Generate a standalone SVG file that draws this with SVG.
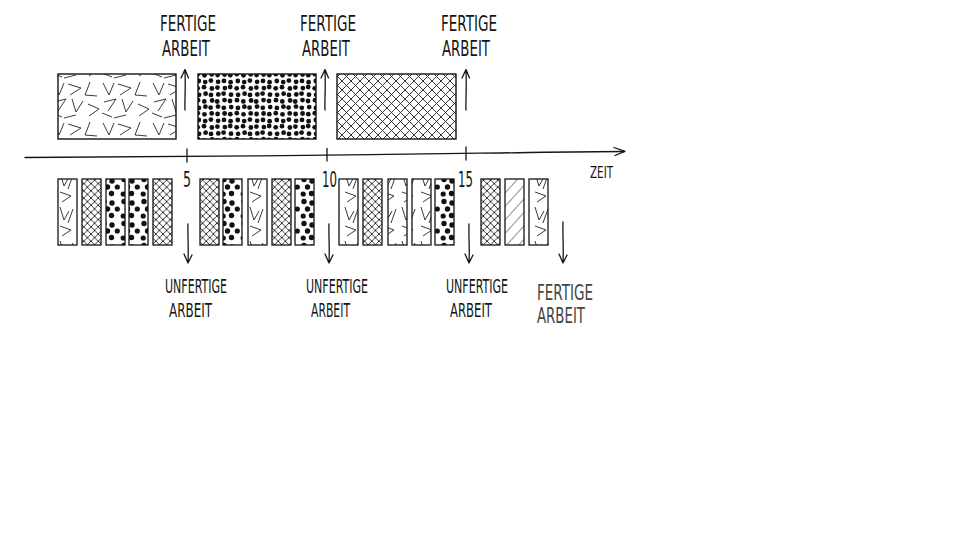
<svg xmlns="http://www.w3.org/2000/svg" width="960" height="540" viewBox="0 0 960 540">
<style>
.box{stroke:#151515;stroke-width:1.4;}
.bar{stroke:#151515;stroke-width:1.3;}
.lbl{font-family:"Liberation Sans Narrow","DejaVu Sans Condensed","Liberation Sans",sans-serif;fill:#151515;}
.lt{font-family:"Liberation Sans Narrow","DejaVu Sans Condensed","Liberation Sans",sans-serif;fill:#444;}
.ln{fill:none;stroke:#151515;stroke-width:1.3;stroke-linecap:round;stroke-linejoin:round;}
</style>
<defs>
<pattern id="xh" patternUnits="userSpaceOnUse" width="9" height="9">
<rect width="9" height="9" fill="#fff"/>
<path d="M0 0L9 9M9 0L0 9" stroke="#222" stroke-width="0.9"/>
</pattern>
<pattern id="xhs" patternUnits="userSpaceOnUse" width="7.2" height="7.2" x="1">
<rect width="7.2" height="7.2" fill="#fff"/>
<path d="M0 0L7.2 7.2M7.2 0L0 7.2" stroke="#222" stroke-width="0.9"/>
</pattern>
<pattern id="dots" patternUnits="userSpaceOnUse" width="39" height="39">
<rect width="39" height="39" fill="#fff"/>
<g fill="#111">
<circle cx="3.8" cy="3.0" r="2.4"/><circle cx="10.2" cy="4.1" r="2.4"/><circle cx="15.9" cy="2.6" r="2.4"/><circle cx="23.1" cy="3.8" r="2.4"/><circle cx="29.0" cy="2.9" r="2.4"/><circle cx="35.6" cy="4.2" r="2.4"/>
<circle cx="2.7" cy="10.3" r="2.4"/><circle cx="9.0" cy="9.2" r="2.4"/><circle cx="16.9" cy="10.5" r="2.4"/><circle cx="22.4" cy="9.6" r="2.4"/><circle cx="29.9" cy="10.1" r="2.4"/><circle cx="35.2" cy="9.0" r="2.4"/>
<circle cx="4.1" cy="16.8" r="2.4"/><circle cx="10.6" cy="15.7" r="2.4"/><circle cx="16.0" cy="16.9" r="2.4"/><circle cx="23.3" cy="16.4" r="2.4"/><circle cx="28.6" cy="15.6" r="2.4"/><circle cx="36.0" cy="16.7" r="2.4"/>
<circle cx="3.0" cy="22.2" r="2.4"/><circle cx="9.3" cy="23.4" r="2.4"/><circle cx="17.1" cy="22.5" r="2.4"/><circle cx="22.2" cy="23.5" r="2.4"/><circle cx="29.5" cy="22.1" r="2.4"/><circle cx="35.0" cy="23.0" r="2.4"/>
<circle cx="3.9" cy="29.9" r="2.4"/><circle cx="10.4" cy="28.7" r="2.4"/><circle cx="15.6" cy="29.6" r="2.4"/><circle cx="23.0" cy="28.6" r="2.4"/><circle cx="28.8" cy="29.8" r="2.4"/><circle cx="36.2" cy="29.1" r="2.4"/>
<circle cx="2.8" cy="35.2" r="2.4"/><circle cx="9.5" cy="36.3" r="2.4"/><circle cx="16.7" cy="35.4" r="2.4"/><circle cx="22.6" cy="36.0" r="2.4"/><circle cx="29.6" cy="35.5" r="2.4"/><circle cx="35.3" cy="36.2" r="2.4"/>
</g>
</pattern>
<pattern id="dotsS" patternUnits="userSpaceOnUse" width="20" height="22">
<rect width="20" height="22" fill="#fff"/>
<g fill="#111">
<circle cx="4" cy="3.5" r="2.7"/><circle cx="12" cy="5" r="2.7"/><circle cx="17.3" cy="11" r="2.6"/>
<circle cx="7.5" cy="11" r="2.7"/><circle cx="3.2" cy="18" r="2.6"/><circle cx="11.5" cy="17.5" r="2.7"/>
</g>
</pattern>
<pattern id="vv" patternUnits="userSpaceOnUse" width="50" height="40">
<rect width="50" height="40" fill="#fff"/>
<g fill="none" stroke="#222" stroke-width="0.9">
<path d="M3 3L9 15L14 3"/>
<path d="M18 4L31 8L20 15"/>
<path d="M40 2L35 15L47 16"/>
<path d="M4 22L16 19L8 31"/>
<path d="M22 19L26 32L33 21"/>
<path d="M38 24L49 29L39 36"/>
<path d="M14 38L26 35"/>
<path d="M2 33L12 37"/>
</g>
</pattern>
<pattern id="vvs" patternUnits="userSpaceOnUse" width="19" height="34">
<rect width="19" height="34" fill="#fff"/>
<g fill="none" stroke="#222" stroke-width="0.9">
<path d="M3 3L7 16L12 7"/>
<path d="M16 5L11 19"/>
<path d="M3 22L14 26L5 32"/>
</g>
</pattern>
<pattern id="diag" patternUnits="userSpaceOnUse" width="9" height="9" patternTransform="rotate(42)">
<rect width="9" height="9" fill="#fff"/>
<path d="M0 0V9" stroke="#222" stroke-width="1"/>
</pattern>
</defs>
<rect width="960" height="540" fill="#fff"/>

<!-- top boxes -->
<g id="box1"><rect class="box" x="58" y="74" width="118" height="65" fill="url(#vv)"/></g>
<g id="box2"><rect class="box" x="198" y="74" width="118" height="65" fill="url(#dots)"/></g>
<g id="box3"><rect class="box" x="337" y="74" width="119" height="65" fill="url(#xh)"/></g>

<!-- bottom bars -->
<g id="bar1"><rect class="bar" x="58" y="179" width="19" height="66" fill="url(#vvs)"/></g>
<g id="bar2"><rect class="bar" x="82" y="179" width="19" height="66" fill="url(#xhs)"/></g>
<g id="bar3"><rect class="bar" x="106" y="179" width="19" height="66" fill="url(#dotsS)"/></g>
<g id="bar4"><rect class="bar" x="129" y="179" width="19" height="66" fill="url(#dotsS)"/></g>
<g id="bar5"><rect class="bar" x="153" y="179" width="19" height="66" fill="url(#xhs)"/></g>
<g id="bar6"><rect class="bar" x="200" y="179" width="19" height="66" fill="url(#xhs)"/></g>
<g id="bar7"><rect class="bar" x="223" y="179" width="19" height="66" fill="url(#dotsS)"/></g>
<g id="bar8"><rect class="bar" x="248" y="179" width="19" height="66" fill="url(#vvs)"/></g>
<g id="bar9"><rect class="bar" x="272" y="179" width="19" height="66" fill="url(#xhs)"/></g>
<g id="bar10"><rect class="bar" x="295" y="179" width="19" height="66" fill="url(#dotsS)"/></g>
<g id="bar11"><rect class="bar" x="339" y="179" width="19" height="66" fill="url(#vvs)"/></g>
<g id="bar12"><rect class="bar" x="363" y="179" width="19" height="66" fill="url(#xhs)"/></g>
<g id="bar13"><rect class="bar" x="388" y="179" width="19" height="66" fill="url(#vvs)"/></g>
<g id="bar14"><rect class="bar" x="412" y="179" width="19" height="66" fill="url(#vvs)"/></g>
<g id="bar15"><rect class="bar" x="435" y="179" width="19" height="66" fill="url(#dotsS)"/></g>
<g id="bar16"><rect class="bar" x="481" y="179" width="19" height="66" fill="url(#xhs)"/></g>
<g id="bar17"><rect class="bar" x="505" y="179" width="19" height="66" fill="url(#diag)"/></g>
<g id="bar18"><rect class="bar" x="529" y="179" width="19" height="66" fill="url(#vvs)"/></g>

<!-- connectors: timeline, ticks, arrows -->
<g id="connectors">
<path class="ln" stroke-width="1.6" d="M25 157.5C120 157 200 156 260 155.8S420 154 480 153.2S580 151.5 624 151.5"/>
<path class="ln" d="M614 147.5L625 151.4L615 155.5"/>
<path class="ln" d="M187 149V162M327 148.5V161M466 147V160"/>
<path class="ln" d="M185 110C184.5 100 185.8 90 185 71M181 78L185 69.5L188.5 78"/>
<path class="ln" d="M325 110C324.5 100 325.8 90 325 71M321 78L325 69.5L328.5 78"/>
<path class="ln" d="M466 110C465.5 100 466.8 90 466 71M462 78L466 69.5L469.5 78"/>
<path class="ln" d="M188 224C187.5 236 188.8 248 188 262M184 254L188 263L192 255"/>
<path class="ln" d="M329 224C328.5 236 329.8 248 329 262M325 254L329 263L333 255"/>
<path class="ln" d="M469 224C468.5 236 469.8 248 469 262M465 254L469 263L473 255"/>
<path class="ln" d="M563 222C562.5 236 563.8 248 563 262M559 254L563 263L567 255"/>
</g>

<!-- labels -->
<g id="label-top1"><text class="lbl" font-size="22" x="160" y="31" textLength="56" lengthAdjust="spacingAndGlyphs">FERTIGE</text><text class="lbl" font-size="22" x="162" y="56" textLength="48" lengthAdjust="spacingAndGlyphs">ARBEIT</text></g>
<g id="label-top2"><text class="lbl" font-size="22" x="300" y="31" textLength="56" lengthAdjust="spacingAndGlyphs">FERTIGE</text><text class="lbl" font-size="22" x="302" y="56" textLength="48" lengthAdjust="spacingAndGlyphs">ARBEIT</text></g>
<g id="label-top3"><text class="lbl" font-size="22" x="441" y="31" textLength="56" lengthAdjust="spacingAndGlyphs">FERTIGE</text><text class="lbl" font-size="22" x="442" y="56" textLength="48" lengthAdjust="spacingAndGlyphs">ARBEIT</text></g>

<g id="num5"><text class="lbl" font-size="22" x="183" y="187" textLength="8" lengthAdjust="spacingAndGlyphs">5</text></g>
<g id="num10"><text class="lbl" font-size="22" x="322" y="187" textLength="15" lengthAdjust="spacingAndGlyphs">10</text></g>
<g id="num15"><text class="lbl" font-size="22" x="458" y="187" textLength="15" lengthAdjust="spacingAndGlyphs">15</text></g>
<g id="zeit"><text class="lbl" font-size="16" x="590" y="178" textLength="23" lengthAdjust="spacingAndGlyphs">ZEIT</text></g>

<g id="label-bot1"><text class="lbl" font-size="19" x="165" y="293" textLength="62" lengthAdjust="spacingAndGlyphs">UNFERTIGE</text><text class="lbl" font-size="19" x="169" y="317" textLength="43" lengthAdjust="spacingAndGlyphs">ARBEIT</text></g>
<g id="label-bot2"><text class="lbl" font-size="19" x="306" y="293" textLength="62" lengthAdjust="spacingAndGlyphs">UNFERTIGE</text><text class="lbl" font-size="19" x="311" y="317" textLength="39" lengthAdjust="spacingAndGlyphs">ARBEIT</text></g>
<g id="label-bot3"><text class="lbl" font-size="19" x="446" y="293" textLength="62" lengthAdjust="spacingAndGlyphs">UNFERTIGE</text><text class="lbl" font-size="19" x="450" y="317" textLength="42" lengthAdjust="spacingAndGlyphs">ARBEIT</text></g>
<g id="label-bot4"><text class="lt" font-size="21" x="537" y="300" textLength="56" lengthAdjust="spacingAndGlyphs">FERTIGE</text><text class="lt" font-size="21" x="537" y="323" textLength="48" lengthAdjust="spacingAndGlyphs">ARBEIT</text></g>
</svg>
